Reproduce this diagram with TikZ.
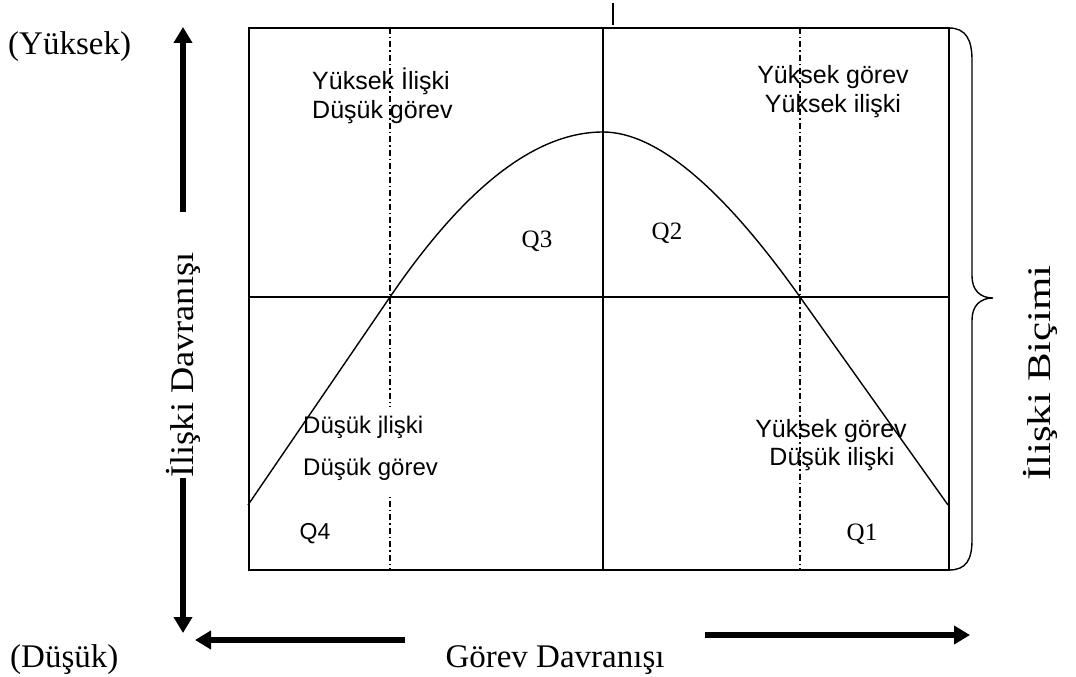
\documentclass[tikz,border=0pt]{standalone}
\usepackage{fontspec}
\setmainfont{Liberation Serif}
\newfontfamily\arialf{Liberation Sans}
\usetikzlibrary{arrows.meta}
\begin{document}
\begin{tikzpicture}[x=1pt,y=-1pt,
  frame/.style={line width=1.4pt},
  guide/.style={line width=1.1pt, dash pattern=on 6pt off 3pt on 1.5pt off 3pt},
  bigarrow/.style={line width=5.5pt, -{Triangle[width=18pt,length=16pt]}},
  sanslbl/.style={font=\arialf\fontsize{25}{29}\selectfont, inner sep=0pt},
  bllbl/.style={font=\arialf\fontsize{24}{28}\selectfont, inner sep=0pt},
  seriflbl/.style={font=\fontsize{33}{38}\selectfont, inner sep=0pt},
  qserif/.style={font=\fontsize{25}{28}\selectfont, inner sep=0pt},
  qsans/.style={font=\arialf\fontsize{23}{26}\selectfont, inner sep=0pt}]
\useasboundingbox (0,0) rectangle (1076,677);

% frame and grid
\draw[frame] (249,28) rectangle (949,570);
\draw[guide] (390,28) -- (390,570);
\draw[guide] (800,28) -- (800,570);
\draw[frame] (603,28) -- (603,570);
\draw[frame] (249,297) -- (949,297);
\draw[line width=2pt] (613,3) -- (613,25);

% mask behind lower-left label
\fill[white] (300,407) rectangle (442,497);

% curve
\draw[frame] (248,505) -- (390,297) .. controls (461,193) and (532,132) .. (603,132)
  .. controls (656,132) and (722,187) .. (800,297) -- (948,505);

% brace
\draw[frame] (949,28) .. controls (966,28) and (972,40) .. (972,60) -- (972,276)
  .. controls (972,290) and (980,298) .. (993,298)
  .. controls (980,298) and (972,306) .. (972,320) -- (972,540)
  .. controls (972,560) and (966,570) .. (949,570);

% quadrant labels
\node[sanslbl, anchor=base west] (tl1) at (312,89) {Yüksek İlişki};
\node[sanslbl, anchor=base west] (tl2) at (312,118) {Düşük görev};
\node[sanslbl, anchor=base] (tr1) at (833,83) {Yüksek görev};
\node[sanslbl, anchor=base] (tr2) at (833,112) {Yüksek ilişki};
\node[sanslbl, anchor=base] (br1) at (831,437) {Yüksek görev};
\node[sanslbl, anchor=base] (br2) at (832,465) {Düşük ilişki};
\node[bllbl, anchor=base west] (bl1) at (303,433) {Düşük jlişki};
\node[bllbl, anchor=base west] (bl2) at (303,475) {Düşük görev};

\node[qserif] (q3) at (537,241) {Q3};
\node[qserif] (q2) at (667,233) {Q2};
\node[qsans] (q4) at (315,534) {Q4};
\node[qserif] (q1) at (862,534) {Q1};

% axis labels
\node[seriflbl, anchor=base west] (yuk) at (8,55) {(Yüksek)};
\node[seriflbl, anchor=base west] (dus) at (10,667) {(Düşük)};
\node[seriflbl, anchor=base] (gorev) at (555,667) {Görev Davranışı};
\node[seriflbl, rotate=90] (iliski) at (183,365) {\scalebox{1.1}[1]{İlişki Davranışı}};
\node[seriflbl, rotate=90] (bicim) at (1040,373) {\scalebox{1.3}[1]{İlişki Biçimi}};

% arrows
\coordinate (upS) at (183,212);
\coordinate (upE) at (183,27);
\coordinate (dnS) at (183,478);
\coordinate (dnE) at (183,633);
\coordinate (lfS) at (405,640);
\coordinate (lfE) at (195,640);
\coordinate (rtS) at (705,635);
\coordinate (rtE) at (970,635);
\draw[bigarrow] (upS) -- (upE);
\draw[bigarrow] (dnS) -- (dnE);
\draw[bigarrow] (lfS) -- (lfE);
\draw[bigarrow] (rtS) -- (rtE);
\end{tikzpicture}
\end{document}
